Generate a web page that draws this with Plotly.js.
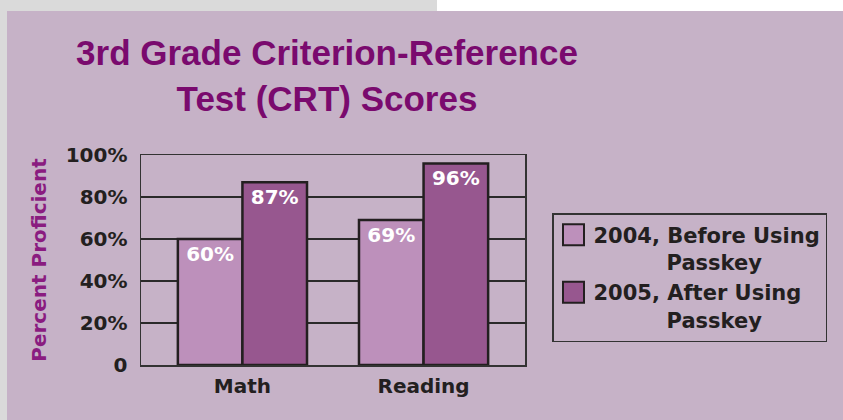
<!DOCTYPE html>
<html>
<head>
<meta charset="utf-8">
<script src="https://cdn.plot.ly/plotly-3.0.1.min.js"></script>
<style>
html,body{margin:0;padding:0;background:#ffffff;}
#chart{width:843px;height:420px;}
</style>
</head>
<body>
<div id="chart"></div>
<script>
// ---- data ----
const categories = ['Math', 'Reading'];
const scores2004 = [60, 69];
const scores2005 = [87, 96];
const seriesNames = [
  '2004, Before Using<br>\u00A0\u00A0\u00A0\u00A0\u00A0\u00A0\u00A0\u00A0\u00A0\u00A0Passkey',
  '2005, After Using<br>\u00A0\u00A0\u00A0\u00A0\u00A0\u00A0\u00A0\u00A0\u00A0\u00A0Passkey'
];
const yTickVals = [0, 20, 40, 60, 80, 100];
const yTickText = ['0', '20%', '40%', '60%', '80%', '100%'];
const chartTitle = '3rd Grade Criterion-Reference<br>Test (CRT) Scores';
const yTitle = 'Percent Proficient';

// ---- styles ----
const lightBar = '#bd90bb';
const darkBar = '#97578f';
const bgColor = '#c6b2c7';
const outline = '#231f20';
const labelFont = {family: 'DejaVu Sans', size: 20, color: '#ffffff', weight: 'bold'};

function makeTrace(vals, name, color) {
  return {
    type: 'bar',
    x: categories,
    y: vals,
    name: name,
    text: vals.map(v => v + '%'),
    textposition: 'inside',
    insidetextanchor: 'end',
    textangle: 0,
    textfont: labelFont,
    constraintext: 'none',
    marker: {color: color, line: {color: outline, width: 2.5}},
    hoverinfo: 'skip'
  };
}

const data = [
  makeTrace(scores2004, seriesNames[0], lightBar),
  makeTrace(scores2005, seriesNames[1], darkBar)
];

const L = 141, T = 155, R = 318, B = 55;
const PW = 843 - L - R, PH = 420 - T - B;
const px = v => (v - L) / PW;
const py = v => (420 - B - v) / PH;

const layout = {
  width: 843,
  height: 420,
  margin: {l: L, r: R, t: T, b: B, pad: 0},
  paper_bgcolor: bgColor,
  plot_bgcolor: 'rgba(0,0,0,0)',
  barmode: 'group',
  bargap: 0.287,
  bargroupgap: 0,
  showlegend: true,
  title: {
    text: chartTitle,
    font: {family: 'Liberation Sans', size: 35, color: '#7a0a6e', weight: 'bold'},
    x: 327 / 843, xref: 'container', xanchor: 'center',
    y: 1 - 65 / 420, yref: 'container', yanchor: 'top'
  },
  xaxis: {
    range: [-0.56, 1.56],
    showgrid: false,
    zeroline: false,
    showline: true, mirror: true, linecolor: '#333333', linewidth: 1.5,
    ticks: 'outside', ticklen: 2, tickcolor: 'rgba(0,0,0,0)',
    tickfont: {family: 'DejaVu Sans', size: 20, color: '#231f20', weight: 'bold'},
    fixedrange: true
  },
  yaxis: {
    range: [0, 100],
    tickvals: yTickVals,
    ticktext: yTickText,
    showgrid: true, gridcolor: '#2a2a2a', gridwidth: 1.5,
    zeroline: false,
    showline: true, mirror: true, linecolor: '#333333', linewidth: 1.5,
    ticks: 'outside', ticklen: 8, tickcolor: 'rgba(0,0,0,0)',
    tickfont: {family: 'DejaVu Sans', size: 20, color: '#231f20', weight: 'bold'},
    title: {
      text: yTitle,
      font: {family: 'DejaVu Sans', size: 20, color: '#8a1c80', weight: 'bold'},
      standoff: 13
    },
    fixedrange: true
  },
  legend: {
    x: px(552), y: py(213), xanchor: 'left', yanchor: 'top',
    bgcolor: 'rgba(0,0,0,0)',
    bordercolor: '#333333', borderwidth: 1.5,
    font: {family: 'DejaVu Sans', size: 21, color: '#231f20', weight: 'bold'},
    valign: 'top',
    traceorder: 'normal',
    tracegroupgap: 0
  },
  shapes: [
    {type: 'rect', xref: 'paper', yref: 'paper', layer: 'below',
     x0: px(0), x1: px(7), y0: py(420), y1: py(0),
     fillcolor: '#dadada', line: {width: 0}},
    {type: 'rect', xref: 'paper', yref: 'paper', layer: 'below',
     x0: px(0), x1: px(437), y0: py(11), y1: py(0),
     fillcolor: '#dadada', line: {width: 0}},
    {type: 'rect', xref: 'paper', yref: 'paper', layer: 'below',
     x0: px(437), x1: px(843), y0: py(11), y1: py(0),
     fillcolor: '#ffffff', line: {width: 0}}
  ]
};

Plotly.newPlot('chart', data, layout, {staticPlot: true, displayModeBar: false}).then(function (gd) {
  // enlarge legend swatches to match the reference
  gd.querySelectorAll('.legend .legendpoints path').forEach(function (p) {
    p.setAttribute('d', 'M10.5,10.5H-10.5V-10.5H10.5Z');
    p.style.strokeWidth = '2px';
  });
});
</script>
</body>
</html>
